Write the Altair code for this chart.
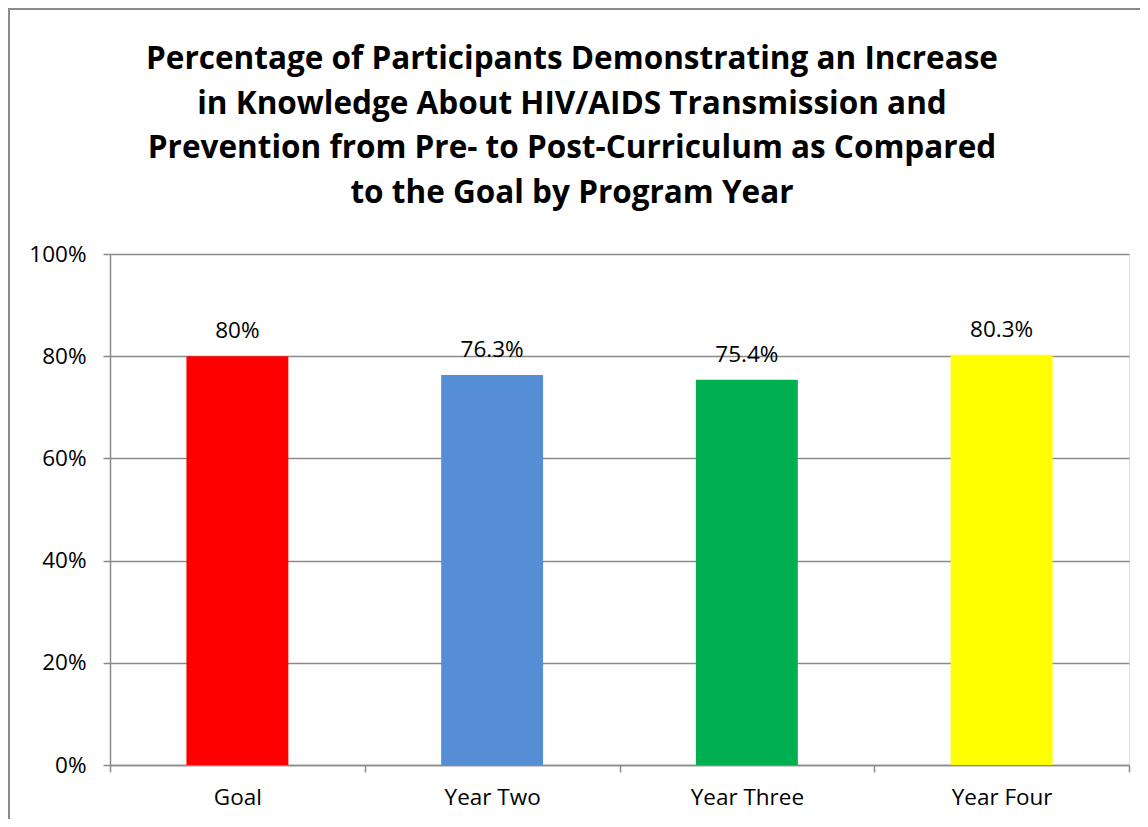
import altair as alt
import pandas as pd

categories = ["Goal", "Year Two", "Year Three", "Year Four"]
values = [0.80, 0.763, 0.754, 0.803]
value_labels = ["80%", "76.3%", "75.4%", "80.3%"]
bar_colors = ["#FF0000", "#558ED5", "#00B050", "#FFFF00"]
y_ticks = [0, 0.2, 0.4, 0.6, 0.8, 1.0]
title_lines = [
    "Percentage of Participants Demonstrating an Increase",
    "in Knowledge About HIV/AIDS Transmission and",
    "Prevention from Pre- to Post-Curriculum as Compared",
    "to the Goal by Program Year",
]

df = pd.DataFrame({"category": categories, "value": values, "label": value_labels})
one = pd.DataFrame({"k": [0]})

FONT = "Open Sans"
GRAY = "#8a8a8a"
LABEL_SIZE = 22.5

x_enc = alt.X(
    "category:N",
    sort=categories,
    scale=alt.Scale(paddingInner=0, paddingOuter=0),
    axis=alt.Axis(
        title=None,
        labelAngle=0,
        labelFont=FONT,
        labelFontSize=LABEL_SIZE,
        labelColor="#000000",
        labelPadding=14,
        tickBand="extent",
        tickSize=7,
        tickColor=GRAY,
        tickWidth=1.5,
        domainColor=GRAY,
        domainWidth=1.5,
        grid=False,
    ),
)

y_enc = alt.Y(
    "value:Q",
    scale=alt.Scale(domain=[0, 1], nice=False),
    axis=alt.Axis(
        title=None,
        values=y_ticks,
        format=".0%",
        labelFont=FONT,
        labelFontSize=LABEL_SIZE,
        labelColor="#000000",
        labelPadding=17,
        tickSize=7,
        tickColor=GRAY,
        tickWidth=1.5,
        domainColor=GRAY,
        domainWidth=1.5,
        grid=True,
        gridColor=GRAY,
        gridWidth=1.5,
    ),
)

bars = alt.Chart(df).mark_bar(width=alt.RelativeBandSize(0.4)).encode(
    x=x_enc,
    y=y_enc,
    color=alt.Color(
        "category:N",
        scale=alt.Scale(domain=categories, range=bar_colors),
        legend=None,
    ),
)

texts = alt.Chart(df).mark_text(
    font=FONT, fontSize=LABEL_SIZE, color="#000000", baseline="alphabetic", dy=-18
).encode(
    x=alt.X("category:N", sort=categories),
    y=alt.Y("value:Q"),
    text="label:N",
)

title = alt.Chart(one).mark_text(
    text=title_lines,
    font=FONT,
    fontSize=31.5,
    fontWeight="bold",
    color="#000000",
    lineHeight=44.5,
    align="center",
    baseline="alphabetic",
).encode(x=alt.value(462), y=alt.value(-185))

border = alt.Chart(one).mark_rect(
    fill=None, stroke=GRAY, strokeWidth=2
).encode(
    x=alt.value(-101), x2=alt.value(1300), y=alt.value(-245), y2=alt.value(1000)
)

chart = alt.layer(bars, texts, title, border).properties(
    width=1019,
    height=511,
    autosize=alt.AutoSizeParams(type="none"),
    padding={"left": 102, "top": 246, "right": 11, "bottom": 54},
).configure_view(stroke=None).configure(background="white")

chart.save("out.html", embed_options={"renderer": "svg", "actions": False})
